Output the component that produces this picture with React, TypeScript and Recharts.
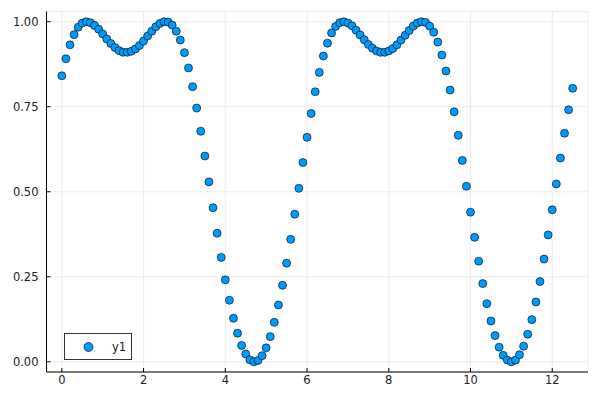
import { ScatterChart, Scatter, XAxis, YAxis, CartesianGrid } from "recharts";

const xValues = [
  0.0, 0.1, 0.2, 0.3, 0.4, 0.5, 0.6, 0.7, 0.8, 0.9,
  1.0, 1.1, 1.2, 1.3, 1.4, 1.5, 1.6, 1.7, 1.8, 1.9,
  2.0, 2.1, 2.2, 2.3, 2.4, 2.5, 2.6, 2.7, 2.8, 2.9,
  3.0, 3.1, 3.2, 3.3, 3.4, 3.5, 3.6, 3.7, 3.8, 3.9,
  4.0, 4.1, 4.2, 4.3, 4.4, 4.5, 4.6, 4.7, 4.8, 4.9,
  5.0, 5.1, 5.2, 5.3, 5.4, 5.5, 5.6, 5.7, 5.8, 5.9,
  6.0, 6.1, 6.2, 6.3, 6.4, 6.5, 6.6, 6.7, 6.8, 6.9,
  7.0, 7.1, 7.2, 7.3, 7.4, 7.5, 7.6, 7.7, 7.8, 7.9,
  8.0, 8.1, 8.2, 8.3, 8.4, 8.5, 8.6, 8.7, 8.8, 8.9,
  9.0, 9.1, 9.2, 9.3, 9.4, 9.5, 9.6, 9.7, 9.8, 9.9,
  10.0, 10.1, 10.2, 10.3, 10.4, 10.5, 10.6, 10.7, 10.8, 10.9,
  11.0, 11.1, 11.2, 11.3, 11.4, 11.5, 11.6, 11.7, 11.8, 11.9,
  12.0, 12.1, 12.2, 12.3, 12.4, 12.5,
];

const y1Values = [
  0.841, 0.891, 0.932, 0.962, 0.984, 0.996, 1.0, 0.997, 0.989, 0.978,
  0.964, 0.949, 0.936, 0.924, 0.915, 0.910, 0.910, 0.913, 0.920, 0.930,
  0.943, 0.958, 0.972, 0.985, 0.995, 1.0, 0.999, 0.990, 0.972, 0.946,
  0.909, 0.864, 0.809, 0.746, 0.678, 0.605, 0.529, 0.453, 0.378, 0.307,
  0.241, 0.181, 0.128, 0.084, 0.048, 0.023, 0.006, 0.0, 0.004, 0.018,
  0.041, 0.074, 0.116, 0.167, 0.225, 0.290, 0.360, 0.434, 0.510, 0.586,
  0.660, 0.730, 0.794, 0.851, 0.899, 0.937, 0.967, 0.986, 0.997, 1.0,
  0.996, 0.988, 0.975, 0.961, 0.947, 0.933, 0.922, 0.914, 0.910, 0.910,
  0.914, 0.921, 0.932, 0.946, 0.960, 0.974, 0.987, 0.996, 1.0, 0.998,
  0.987, 0.969, 0.940, 0.902, 0.855, 0.799, 0.735, 0.666, 0.592, 0.516,
  0.440, 0.366, 0.296, 0.230, 0.171, 0.120, 0.077, 0.043, 0.019, 0.005,
  0.0, 0.005, 0.021, 0.046, 0.081, 0.124, 0.176, 0.236, 0.302, 0.373,
  0.447, 0.523, 0.599, 0.672, 0.741, 0.804,
];

const xTicks = [0, 2, 4, 6, 8, 10, 12];
const yTicks = [0, 0.25, 0.5, 0.75, 1.0];

const data = xValues.map((x, i) => ({ x, y: y1Values[i] }));

const tickStyle = { fontSize: 11.5, fill: "#222", fontFamily: "DejaVu Sans" };

const Dot = (props: any) => (
  <circle cx={props.cx} cy={props.cy} r={4} fill="#009AFA" stroke="#000" strokeWidth={0.6} />
);

export default function App() {
  return (
    <div style={{ position: "absolute", left: 0, top: 0, width: 600, height: 400, background: "#fff" }}>
      <ScatterChart width={600} height={400} margin={{ top: 11.5, right: 12, bottom: 8, left: 0 }}>
        <CartesianGrid stroke="#ececec" strokeWidth={1} />
        <XAxis
          type="number"
          dataKey="x"
          domain={[-0.375, 12.875]}
          ticks={xTicks}
          height={20}
          tick={tickStyle}
          tickSize={-4}
          tickMargin={8}
          axisLine={{ stroke: "#000", strokeWidth: 1 }}
          tickLine={{ stroke: "#000" }}
          allowDataOverflow
        />
        <YAxis
          type="number"
          dataKey="y"
          domain={[-0.03, 1.03]}
          ticks={yTicks}
          width={46.5}
          tick={tickStyle}
          tickSize={-4}
          tickMargin={12}
          tickFormatter={(v: number) => v.toFixed(2)}
          axisLine={{ stroke: "#000", strokeWidth: 1 }}
          tickLine={{ stroke: "#000" }}
          allowDataOverflow
        />
        <Scatter name="y1" data={data} shape={<Dot />} isAnimationActive={false} />
      </ScatterChart>
      <div
        style={{
          position: "absolute",
          left: 64,
          top: 333,
          width: 66,
          height: 25,
          border: "1px solid #333",
          background: "#fff",
        }}
      >
        <svg width={66} height={25} style={{ position: "absolute", left: 0, top: 0 }}>
          <circle cx={23.5} cy={13} r={4.5} fill="#009AFA" stroke="#000" strokeWidth={0.6} />
          <text x={47} y={17} fontSize={11.5} fill="#222" fontFamily="DejaVu Sans">
            y1
          </text>
        </svg>
      </div>
    </div>
  );
}
